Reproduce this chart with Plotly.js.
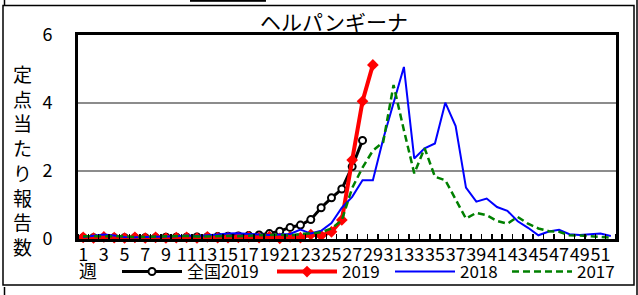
<!DOCTYPE html>
<html>
<head>
<meta charset="utf-8">
<script src="https://cdn.plot.ly/plotly-3.0.1.min.js"></script>
<style>html,body{margin:0;padding:0;background:#fff;}#chart{width:638px;height:295px;}</style>
</head>
<body>
<div id="chart"></div>
<script>
// ---- data ----
var weeks = [];
for (var w = 1; w <= 52; w++) weeks.push(w);
var tickWeeks = [1,3,5,7,9,11,13,15,17,19,21,23,25,27,29,31,33,35,37,39,41,43,45,47,49,51];
var chartTitle = "ヘルパンギーナ";
var yTitle = "定点当たり報告数";
var xUnit = "週";
var seriesNames = ["全国2019", "2019", "2018", "2017"];

var national2019 = [0.04,0.04,0.04,0.04,0.04,0.04,0.04,0.04,0.05,0.05,0.05,0.06,0.06,0.07,0.08,0.09,0.10,0.12,0.16,0.23,0.34,0.41,0.57,0.92,1.21,1.47,2.13,2.90];
var local2019 = [0.05,0.03,0.06,0.04,0.03,0.05,0.03,0.05,0.03,0.04,0.05,0.03,0.06,0.04,0.04,0.05,0.06,0.04,0.07,0.02,0.06,0.04,0.13,0.10,0.21,0.56,2.32,4.05,5.12];
var local2018 = [0.06,0.09,0.13,0.10,0.06,0.05,0.05,0.06,0.07,0.08,0.10,0.09,0.10,0.13,0.16,0.17,0.15,0.13,0.12,0.13,0.15,0.28,0.16,0.24,0.47,0.92,1.24,1.73,1.73,2.94,4.00,5.06,2.37,2.67,2.81,4.01,3.32,1.51,1.10,1.19,0.94,0.83,0.52,0.33,0.11,0.22,0.27,0.14,0.12,0.15,0.16,0.09];
var local2017 = [0.08,0.08,0.07,0.09,0.08,0.06,0.07,0.08,0.07,0.08,0.09,0.07,0.08,0.10,0.09,0.08,0.10,0.10,0.12,0.13,0.10,0.15,0.16,0.20,0.31,0.55,1.50,2.10,2.60,2.85,4.53,3.20,1.93,2.67,1.83,1.73,1.17,0.60,0.77,0.70,0.53,0.45,0.65,0.45,0.31,0.23,0.21,0.11,0.10,0.08,0.04,0.04];

var FONT = "'Noto Sans CJK JP', 'Noto Sans', sans-serif";

// layout geometry (pixels)
var W = 638, H = 295, L = 78, R = 22, T = 35, B = 56;
var pw = W - L - R, ph = H - T - B;
function px(x) { return (x - L) / pw; }
function py(y) { return (H - B - y) / ph; }

var traces = [
  {x: weeks.slice(0, national2019.length), y: national2019, name: seriesNames[0], type: 'scatter', mode: 'lines+markers',
   line: {color: '#000000', width: 3}, marker: {symbol: 'circle', size: 7, color: '#ffffff', line: {color: '#000000', width: 2}},
   cliponaxis: false, legend: 'legend'},
  {x: weeks.slice(0, local2019.length), y: local2019, name: seriesNames[1], type: 'scatter', mode: 'lines+markers',
   line: {color: '#ff0000', width: 4}, marker: {symbol: 'diamond', size: 9, color: '#ff0000'},
   cliponaxis: false, legend: 'legend2'},
  {x: weeks, y: local2018, name: seriesNames[2], type: 'scatter', mode: 'lines',
   line: {color: '#0000ff', width: 2}, cliponaxis: false, legend: 'legend3'},
  {x: weeks, y: local2017, name: seriesNames[3], type: 'scatter', mode: 'lines',
   line: {color: '#008000', width: 2.5, dash: '7px,4px'}, cliponaxis: false, legend: 'legend4'}
];

function leg(x) {
  return {orientation: 'h', x: px(x), xanchor: 'left', y: py(272), yanchor: 'middle',
          font: {family: FONT, size: 17, color: '#000'}, bgcolor: 'rgba(0,0,0,0)', itemwidth: 60, borderwidth: 0};
}

var layout = {
  width: W, height: H,
  margin: {l: L, r: R, t: T, b: B, pad: 0, autoexpand: false},
  paper_bgcolor: '#ffffff', plot_bgcolor: '#ffffff',
  font: {family: FONT, color: '#000'},
  title: {text: chartTitle, x: 334 / W, xref: 'container', xanchor: 'center', y: 1 - 23 / H, yref: 'container', yanchor: 'middle',
          font: {family: FONT, size: 21, color: '#000'}},
  showlegend: true,
  legend: leg(117), legend2: leg(272), legend3: leg(390), legend4: leg(507),
  xaxis: {range: [0.5, 52.5], tickmode: 'array', tickvals: tickWeeks, ticktext: tickWeeks.map(String), tickangle: 0,
          ticks: '', showgrid: false, zeroline: false, showline: true, linecolor: '#000', linewidth: 3, mirror: true,
          tickfont: {family: FONT, size: 18, color: '#000'}, ticklabelstandoff: -3,
          minor: {tick0: 0.5, dtick: 1, ticks: 'inside', ticklen: 5, tickwidth: 1.5, tickcolor: '#000', showgrid: false}},
  yaxis: {range: [0, 6], tickvals: [0, 2, 4, 6], ticks: '', showgrid: true, gridcolor: '#8c8c8c', gridwidth: 2,
          zeroline: false, showline: true, linecolor: '#000', linewidth: 3, mirror: true,
          tickfont: {family: FONT, size: 18, color: '#000'}, ticklabelstandoff: 19},
  annotations: [
    {text: yTitle.split('').join('<br>'), xref: 'paper', yref: 'paper', x: px(22), y: py(160), xanchor: 'center', yanchor: 'middle',
     showarrow: false, font: {family: FONT, size: 19, color: '#000'}},
    {text: xUnit, xref: 'paper', yref: 'paper', x: px(88), y: py(270), xanchor: 'center', yanchor: 'middle',
     showarrow: false, font: {family: FONT, size: 18, color: '#000'}},
    {text: '<span style="text-decoration:underline">全国2019</span>', xref: 'paper', yref: 'paper', x: px(228), y: py(6), xanchor: 'center', yanchor: 'bottom',
     showarrow: false, font: {family: FONT, size: 18, color: '#000'}}
  ],
  shapes: [
    {type: 'rect', xref: 'paper', yref: 'paper', x0: px(3), x1: px(634), y0: py(285), y1: py(5.5), line: {color: '#000', width: 1.5}, layer: 'below'},
    {type: 'line', xref: 'paper', yref: 'paper', x0: px(637), x1: px(637), y0: py(0), y1: py(295), line: {color: '#000', width: 1.5}},
    {type: 'line', xref: 'paper', yref: 'paper', x0: px(4.5), x1: px(4.5), y0: py(0), y1: py(5.5), line: {color: '#000', width: 1.5}},
    {type: 'line', xref: 'paper', yref: 'paper', x0: px(4.5), x1: px(4.5), y0: py(287), y1: py(295), line: {color: '#000', width: 1.5}}
  ]
};

Plotly.newPlot('chart', traces, layout, {displayModeBar: false, staticPlot: true});
</script>
</body>
</html>
